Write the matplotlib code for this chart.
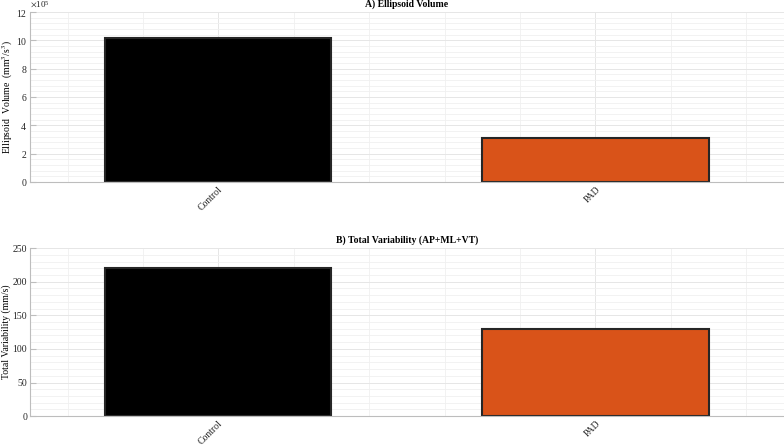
import matplotlib
matplotlib.use('Agg')
import matplotlib.pyplot as plt
from matplotlib.ticker import MultipleLocator, AutoMinorLocator, ScalarFormatter

plt.rcParams['font.family'] = ['Liberation Serif', 'DejaVu Serif']
plt.rcParams['mathtext.fontset'] = 'stix'

groups = ['Control', 'PAD']
volume = [10.15e5, 3.1e5]
variability = [221, 130]
bar_colors = ['#000000', '#D95319']

fig = plt.figure(figsize=(7.84, 4.47), dpi=100)
ax1 = fig.add_axes([0.038, 0.593, 0.962, 0.380])
ax2 = fig.add_axes([0.038, 0.069, 0.962, 0.376])


def style(ax, title, ylabel, label_x):
    x = range(1, len(groups) + 1)
    ax.set_xlim(0.5, 2.5)
    ax.set_xticks(list(x))
    ax.set_xticklabels(groups, rotation=45, ha='right', rotation_mode='anchor', fontsize=7, color='#262626')
    ax.xaxis.set_minor_locator(MultipleLocator(0.2))
    ax.yaxis.set_minor_locator(AutoMinorLocator(5))
    ax.grid(True, which='major', color='#e6e6e6', lw=0.7)
    ax.grid(True, which='minor', color='#f0f0f0', lw=0.6)
    ax.set_axisbelow(True)
    for s in ['top', 'right']:
        ax.spines[s].set_visible(False)
    for s in ['left', 'bottom']:
        ax.spines[s].set_color('#bdbdbd')
        ax.spines[s].set_linewidth(0.8)
    ax.tick_params(axis='y', direction='in', length=4, color='#bdbdbd', labelsize=7, labelcolor='#262626', pad=2)
    ax.tick_params(axis='x', length=0, pad=2)
    ax.tick_params(which='minor', length=0)
    ax.set_title(title, fontsize=7, fontweight='bold', pad=4)
    ax.set_ylabel(ylabel, fontsize=7, va='center')
    ax.yaxis.set_label_coords(label_x, 0.5)


ax1.bar(range(1, 3), volume, width=0.6, color=bar_colors, edgecolor='#262626', linewidth=1.5)
style(ax1, 'A) Ellipsoid Volume', 'Ellipsoid  Volume  (mm$^3$/s$^3$)', -0.029)
ax1.set_ylim(0, 12e5)
ax1.yaxis.set_major_locator(MultipleLocator(2e5))
fmt = ScalarFormatter(useMathText=True)
fmt.set_powerlimits((5, 5))
ax1.yaxis.set_major_formatter(fmt)
ax1.yaxis.get_offset_text().set_fontsize(6.5)
ax1.yaxis.get_offset_text().set_color('#262626')

ax2.bar(range(1, 3), variability, width=0.6, color=bar_colors, edgecolor='#262626', linewidth=1.5)
style(ax2, 'B) Total Variability (AP+ML+VT)', 'Total Variability (mm/s)', -0.031)
ax2.set_ylim(0, 250)
ax2.yaxis.set_major_locator(MultipleLocator(50))

fig.savefig('out.png', dpi=100)
